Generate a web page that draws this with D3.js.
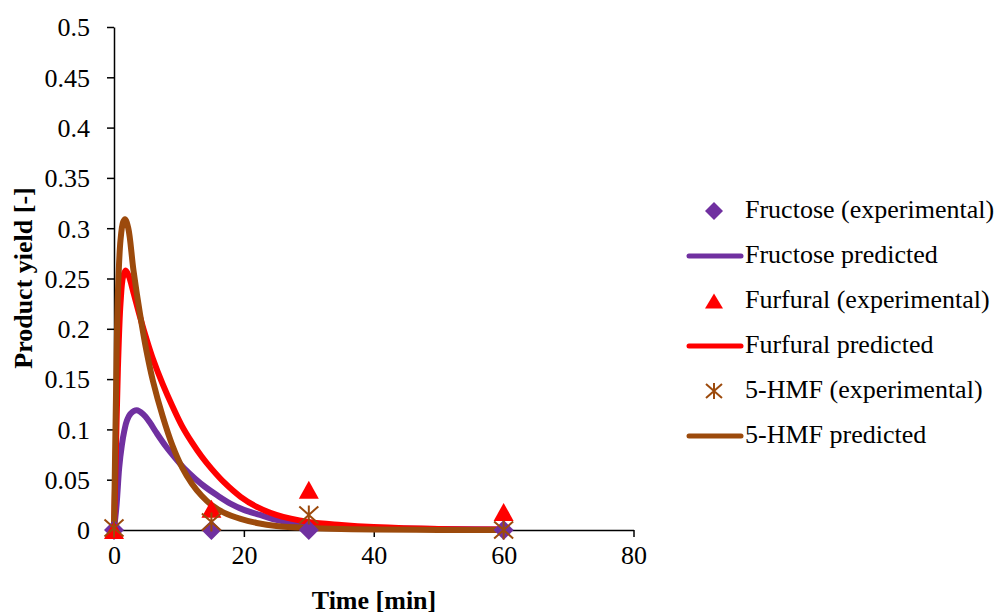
<!DOCTYPE html>
<html><head><meta charset="utf-8">
<script src="https://cdn.jsdelivr.net/npm/d3@7"></script>
<style>
html,body{margin:0;padding:0;background:#fff;}
svg{display:block;font-family:"Liberation Serif","Times New Roman",serif;}
svg text{font-family:"Liberation Serif","Times New Roman",serif;}
</style></head>
<body><svg id="chart" width="1004" height="615"></svg>
<script>
// ---- data ----
const xTicks = [0, 20, 40, 60, 80];
const yTicks = [0, 0.05, 0.1, 0.15, 0.2, 0.25, 0.3, 0.35, 0.4, 0.45, 0.5];
const yTickLabels = ["0", "0.05", "0.1", "0.15", "0.2", "0.25", "0.3", "0.35", "0.4", "0.45", "0.5"];

const expTime = [0, 15, 30, 60];
const fructoseExp = [0, 0, 0, 0];
const furfuralExp = [0, 0.021, 0.040, 0.018];
const hmfExp = [0.002, 0.008, 0.015, 0];

const fructosePredT = [0, 0.4, 0.8, 1.2, 1.6, 2, 2.6, 3.5, 4.5, 5.5, 6.5, 8, 9.5, 11, 12.5, 14, 16, 18, 20, 22.5, 25, 30, 35, 40, 50, 60];
const fructosePredV = [0, 0.025, 0.062, 0.084, 0.099, 0.109, 0.116, 0.119, 0.115, 0.107, 0.097, 0.083, 0.071, 0.060, 0.051, 0.043, 0.034, 0.026, 0.020, 0.015, 0.010, 0.005, 0.003, 0.002, 0.001, 0.0005];

const furfuralPredT = [0, 0.3, 0.6, 1.0, 1.4, 1.8, 2.3, 3, 4, 5, 6, 7.5, 9, 10.5, 12, 13.5, 15, 17, 19.5, 22, 25, 30, 35, 40, 50, 60];
const furfuralPredV = [0, 0.08, 0.16, 0.225, 0.252, 0.258, 0.252, 0.236, 0.212, 0.190, 0.170, 0.145, 0.123, 0.103, 0.087, 0.073, 0.061, 0.047, 0.033, 0.023, 0.015, 0.008, 0.005, 0.003, 0.001, 0.0005];

const hmfPredT = [0, 0.3, 0.6, 1.0, 1.4, 1.7, 2.2, 3, 4, 5, 6, 7.5, 9, 10.5, 12, 13.5, 15, 17, 19.5, 22, 25, 30, 35, 40, 50, 60];
const hmfPredV = [0, 0.13, 0.235, 0.288, 0.306, 0.309, 0.300, 0.258, 0.215, 0.178, 0.148, 0.113, 0.084, 0.062, 0.046, 0.034, 0.025, 0.017, 0.011, 0.007, 0.004, 0.002, 0.001, 0.0005, 0.0001, 0];

const seriesNames = ["Fructose (experimental)", "Fructose predicted", "Furfural (experimental)", "Furfural predicted", "5-HMF (experimental)", "5-HMF predicted"];
const colors = {fructose: "#7030A0", furfural: "#FF0000", hmf: "#9C4A0C"};
const FONT = '"Liberation Serif","Times New Roman",serif';

// ---- layout ----
const svg = d3.select("#chart");
const x = d3.scaleLinear().domain([0, 80]).range([114, 633.5]);
const y = d3.scaleLinear().domain([0, 0.5]).range([530, 27]);

// axes
const xAxis = d3.axisBottom(x).tickValues(xTicks).tickSize(7).tickSizeOuter(0).tickPadding(8);
const yAxis = d3.axisLeft(y).tickValues(yTicks).tickSize(7).tickSizeOuter(0).tickPadding(17)
  .tickFormat((d, i) => yTickLabels[i]);

const gx = svg.append("g").attr("transform", `translate(0,${y(0)})`).call(xAxis);
const gy = svg.append("g").attr("transform", `translate(${x(0)},0)`).call(yAxis);
[gx, gy].forEach(g => {
  g.attr("font-family", FONT).attr("font-size", 26);
  g.selectAll("path.domain").attr("stroke", "#000").attr("stroke-width", 1.5);
  g.selectAll(".tick line").attr("stroke", "#000").attr("stroke-width", 1.5);
  g.selectAll(".tick text").attr("fill", "#000").attr("font-size", 26).style("font-family", FONT);
});
gy.selectAll(".tick text").attr("dy", "0.34em");
gx.selectAll(".tick text").attr("dy", "0.72em");

// axis titles
svg.append("text").attr("x", 374).attr("y", 609).attr("text-anchor", "middle")
  .attr("font-size", 26).attr("font-weight", "bold").text("Time [min]");
svg.append("text").attr("transform", "translate(32,278) rotate(-90)").attr("text-anchor", "middle")
  .attr("font-size", 26).attr("font-weight", "bold").text("Product yield [-]");

// lines
const line = d3.line().x(d => x(d[0])).y(d => y(d[1])).curve(d3.curveCatmullRom.alpha(0.5));
const preds = [
  {t: fructosePredT, v: fructosePredV, c: colors.fructose},
  {t: furfuralPredT, v: furfuralPredV, c: colors.furfural},
  {t: hmfPredT, v: hmfPredV, c: colors.hmf}
];
preds.forEach(p => {
  svg.append("path").datum(p.t.map((t, i) => [t, p.v[i]]))
    .attr("d", line).attr("fill", "none").attr("stroke", p.c)
    .attr("stroke-width", 6).attr("stroke-linejoin", "round").attr("stroke-linecap", "round");
});

// markers
function diamond(g, cx, cy, s) {
  const h = s / 2;
  g.append("path").attr("d", `M${cx},${cy - h}L${cx + h},${cy}L${cx},${cy + h}L${cx - h},${cy}Z`)
    .attr("fill", colors.fructose);
}
function triangle(g, cx, cy, w, hgt) {
  g.append("path").attr("d", `M${cx},${cy - hgt / 2}L${cx + w / 2},${cy + hgt / 2}L${cx - w / 2},${cy + hgt / 2}Z`)
    .attr("fill", colors.furfural);
}
function star(g, cx, cy, w, hgt) {
  const a = w / 2, b = hgt / 2;
  g.append("path").attr("d", `M${cx - a},${cy - b}L${cx + a},${cy + b}M${cx - a},${cy + b}L${cx + a},${cy - b}M${cx},${cy - b - 1}L${cx},${cy + b + 1}`)
    .attr("stroke", colors.hmf).attr("stroke-width", 2).attr("fill", "none");
}
const mk = svg.append("g");
expTime.forEach((t, i) => diamond(mk, x(t), y(fructoseExp[i]), 20));
expTime.forEach((t, i) => triangle(mk, x(t), y(furfuralExp[i]), 20, 18));
expTime.forEach((t, i) => star(mk, x(t), y(hmfExp[i]), 19, 17));

// legend
const lg = svg.append("g");
const rowY = [218, 263, 308, 353, 398, 443];
seriesNames.forEach((name, i) => {
  const by = rowY[i], cy = by - 7;
  const key = ["fructose", "fructose", "furfural", "furfural", "hmf", "hmf"][i];
  if (i % 2 === 1) {
    lg.append("line").attr("x1", 689).attr("x2", 741).attr("y1", cy).attr("y2", cy)
      .attr("stroke", colors[key]).attr("stroke-width", 5).attr("stroke-linecap", "round");
  } else if (i === 0) diamond(lg, 714, cy, 18);
  else if (i === 2) triangle(lg, 714, cy, 18, 15);
  else star(lg, 714, cy, 16, 14);
  lg.append("text").attr("x", 745).attr("y", by).attr("font-size", 26).attr("fill", "#000").text(name);
});
</script></body></html>
